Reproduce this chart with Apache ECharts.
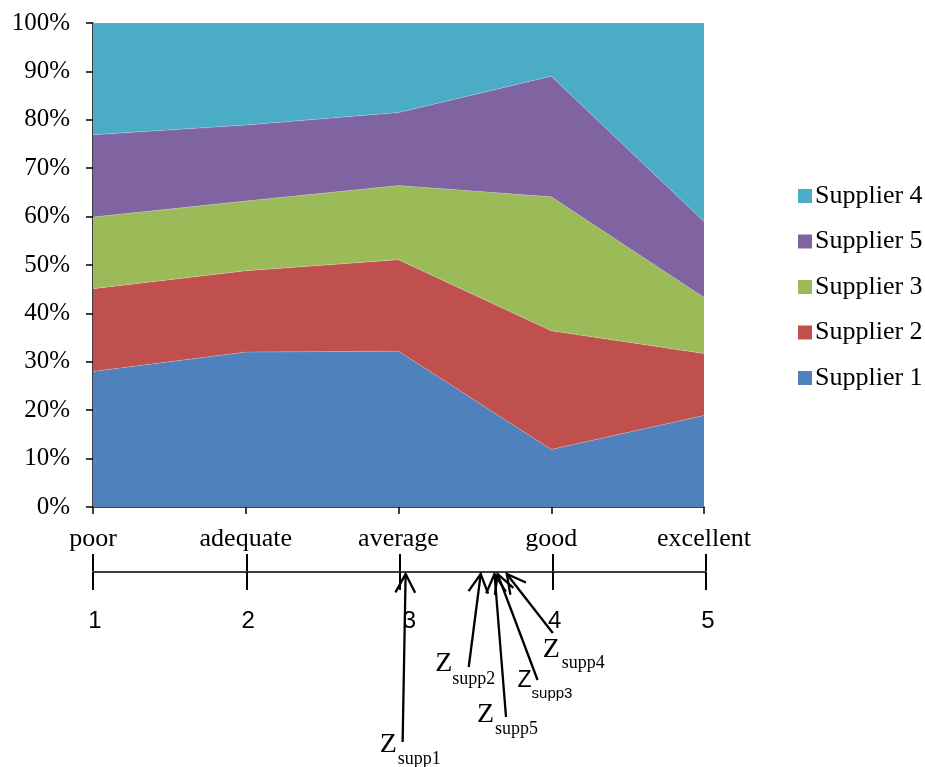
<!DOCTYPE html>
<html>
<head>
<meta charset="utf-8">
<script src="https://cdn.jsdelivr.net/npm/echarts@6/dist/echarts.min.js"></script>
<style>
html,body{margin:0;padding:0;background:#fff;}
#chart{width:925px;height:767px;}
</style>
</head>
<body>
<div id="chart"></div>
<script>
// ---- data ----
const categories = ['poor', 'adequate', 'average', 'good', 'excellent'];
const supplier1 = [28.0, 32.0, 32.2, 11.9, 18.9];
const supplier2 = [17.1, 16.8, 18.9, 24.5, 12.8];
const supplier3 = [14.8, 14.4, 15.3, 27.7, 11.6];
const supplier5 = [17.0, 15.7, 15.1, 24.9, 15.7];
const supplier4 = [23.1, 21.1, 18.5, 11.0, 41.0];
const legendOrder = ['Supplier 4', 'Supplier 5', 'Supplier 3', 'Supplier 2', 'Supplier 1'];
const zNames = ['supp1', 'supp2', 'supp5', 'supp3', 'supp4'];
const zScores = [3.04, 3.53, 3.62, 3.64, 3.70];
const scaleMin = 1, scaleMax = 5, scaleStep = 1;

// ---- layout (pixel offsets relative to arrow tip) ----
const arrowLayout = {
  supp1: {tail: [-3, 168], z: [-26, 171], s: [-8, 185], sans: false},
  supp2: {tail: [-12, 93], z: [-45.5, 90], s: [-28.5, 105], sans: false},
  supp5: {tail: [11.5, 143], z: [-17.5, 141], s: [0.5, 155], sans: false},
  supp3: {tail: [40, 106], z: [20, 107], s: [34, 120], sans: true},
  supp4: {tail: [46, 59], z: [36, 76], s: [55, 89], sans: false}
};

const colors = {
  'Supplier 1': '#4F81BD',
  'Supplier 2': '#C0504D',
  'Supplier 3': '#9BBB59',
  'Supplier 5': '#8064A2',
  'Supplier 4': '#4BACC6'
};
const serif = '"Liberation Serif", "Times New Roman", serif';
const sans = '"Liberation Sans", Arial, sans-serif';

function areaSeries(name, data) {
  return {
    name: name, type: 'line', stack: 'total', data: data,
    xAxisIndex: 0, yAxisIndex: 0,
    symbol: 'none', smooth: false,
    lineStyle: {width: 0.6, color: 'rgba(255,255,255,0.35)'},
    areaStyle: {color: colors[name], opacity: 1},
    itemStyle: {color: colors[name]},
    z: 2
  };
}

const chart = echarts.init(document.getElementById('chart'), null, {renderer: 'canvas'});
const option = {
  animation: false,
  backgroundColor: '#fff',
  grid: [
    {left: 93, right: 221, top: 23, bottom: 260, containLabel: false},
    {left: 93, right: 219, top: 571, height: 1, containLabel: false}
  ],
  legend: {
    orient: 'vertical', left: 793, top: 178,
    itemWidth: 14, itemHeight: 14, itemGap: 19.5,
    icon: 'rect',
    data: legendOrder,
    textStyle: {fontFamily: serif, fontSize: 26, color: '#000', padding: [0, 0, 0, -2]}
  },
  xAxis: [
    {
      type: 'category', gridIndex: 0, data: categories, boundaryGap: false,
      axisLine: {lineStyle: {color: '#000', width: 1.5}},
      axisTick: {show: true, length: 7, lineStyle: {color: '#000', width: 1.5}},
      axisLabel: {fontFamily: serif, fontSize: 26, color: '#000', margin: 19},
      splitLine: {show: false}
    },
    {
      type: 'value', gridIndex: 1, position: 'bottom',
      min: scaleMin, max: scaleMax, interval: scaleStep,
      axisLine: {lineStyle: {color: '#000', width: 1.5}},
      axisTick: {show: true, length: 18, lineStyle: {color: '#000', width: 2}},
      axisLabel: {
        fontFamily: sans, fontSize: 24, color: '#000', margin: 37,
        formatter: function (v) { return v === 3 ? '{o|3}' : '{n|' + v + '}'; },
        rich: {
          n: {fontFamily: sans, fontSize: 24, color: '#000', padding: [0, 0, 0, 4]},
          o: {fontFamily: sans, fontSize: 24, color: '#000', padding: [0, 0, 0, 20]}
        }
      },
      splitLine: {show: false}
    },
    {
      type: 'value', gridIndex: 1, position: 'top',
      min: scaleMin, max: scaleMax, interval: scaleStep,
      axisLine: {show: false},
      axisTick: {show: true, length: 17, lineStyle: {color: '#000', width: 2}},
      axisLabel: {show: false},
      splitLine: {show: false}
    }
  ],
  yAxis: [
    {
      type: 'value', gridIndex: 0, min: 0, max: 100, interval: 10,
      axisLine: {show: true, lineStyle: {color: '#000', width: 1.5}},
      axisTick: {show: true, length: 7, lineStyle: {color: '#000', width: 1.5}},
      axisLabel: {fontFamily: serif, fontSize: 25, color: '#000', margin: 23, formatter: '{value}%'},
      splitLine: {show: false}
    },
    {
      type: 'value', gridIndex: 1, min: 0, max: 1, show: false
    }
  ],
  series: [
    areaSeries('Supplier 1', supplier1),
    areaSeries('Supplier 2', supplier2),
    areaSeries('Supplier 3', supplier3),
    areaSeries('Supplier 5', supplier5),
    areaSeries('Supplier 4', supplier4),
    {
      type: 'custom', name: 'z', xAxisIndex: 1, yAxisIndex: 1, clip: false,
      silent: true, z: 5,
      data: zScores.map(function (v, i) { return [v, 0, i]; }),
      renderItem: function (params, api) {
        const idx = api.value(2);
        const name = zNames[idx];
        const L = arrowLayout[name];
        const p = api.coord([api.value(0), 0]);
        const tx = p[0], ty = p[1] + 2;
        const ex = tx + L.tail[0], ey = ty + L.tail[1];
        const dx = ex - tx, dy = ey - ty;
        const len = Math.sqrt(dx * dx + dy * dy);
        const ux = dx / len, uy = dy / len;
        const ang = 28 * Math.PI / 180, hl = 21;
        function rot(a) {
          const c = Math.cos(a), s = Math.sin(a);
          return [tx + hl * (ux * c - uy * s), ty + hl * (ux * s + uy * c)];
        }
        const zFont = L.sans ? ('23px ' + sans) : ('28px ' + serif);
        const sFont = L.sans ? ('15px ' + sans) : ('18px ' + serif);
        return {
          type: 'group',
          children: [
            {type: 'line', shape: {x1: tx, y1: ty, x2: ex, y2: ey},
              style: {stroke: '#000', lineWidth: 2.3}},
            {type: 'polyline', shape: {points: [rot(ang), [tx, ty], rot(-ang)]},
              style: {stroke: '#000', lineWidth: 2.3, fill: null}},
            {type: 'text', style: {x: tx + L.z[0], y: ty + L.z[1], text: 'Z',
              font: zFont, fill: '#000', align: 'left', verticalAlign: 'middle'}},
            {type: 'text', style: {x: tx + L.s[0], y: ty + L.s[1], text: name,
              font: sFont, fill: '#000', align: 'left', verticalAlign: 'middle'}}
          ]
        };
      }
    }
  ]
};
chart.setOption(option);
</script>
</body>
</html>
